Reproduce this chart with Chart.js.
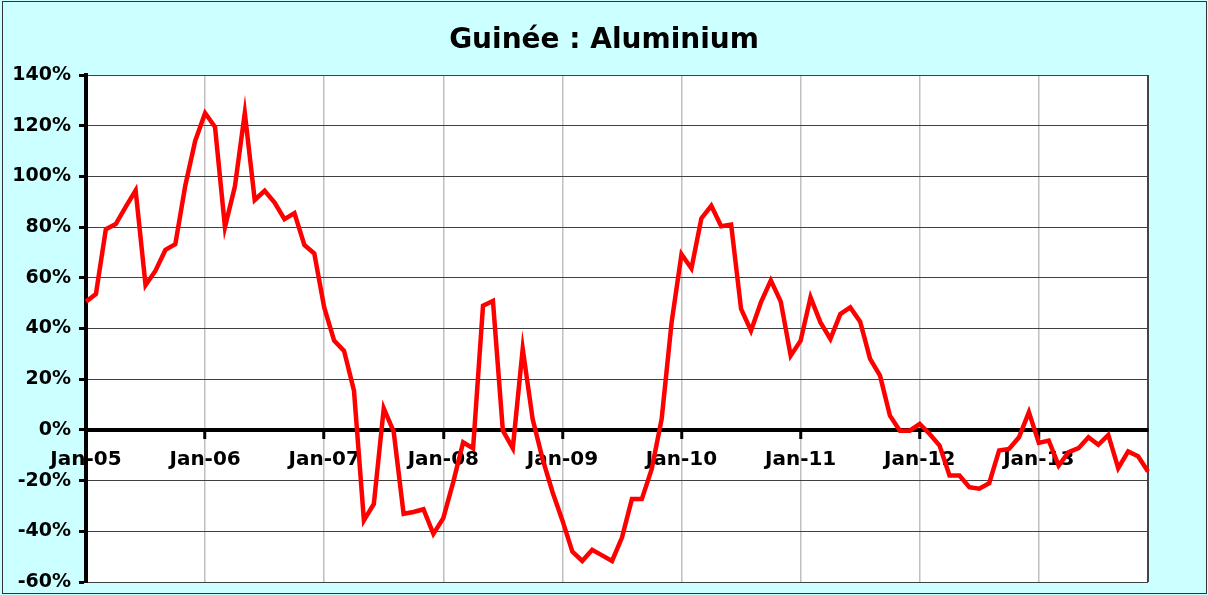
<!DOCTYPE html>
<html lang="fr">
<head>
<meta charset="utf-8">
<title>Guinée : Aluminium</title>
<script src="https://cdn.jsdelivr.net/npm/chart.js@4.4.1/dist/chart.umd.min.js"></script>
<style>
    html, body { margin: 0; padding: 0; background: #ccffff; }
    .chart-box { position: relative; width: 1208px; height: 595px; }
</style>
</head>
<body>
<div class="chart-box">
    <canvas id="aluChart"></canvas>
</div>
<script>
// Monthly categories Jan-05 .. Dec-13
const months = ['Jan', 'Feb', 'Mar', 'Apr', 'May', 'Jun', 'Jul', 'Aug', 'Sep', 'Oct', 'Nov', 'Dec'];
const years = ['05', '06', '07', '08', '09', '10', '11', '12', '13'];

// Year-on-year change, in %
const values2005 = [50.6, 53.6, 79.2, 81.2, 88, 94.5, 57.1, 62.8, 71.0, 73.3, 96.3, 114];
const values2006 = [125, 119.5, 80, 96, 125, 90.7, 94.3, 89.7, 83.1, 85.5, 73, 69.6];
const values2007 = [48.3, 35.2, 31.2, 15.5, -35.7, -29.2, 8.5, -0.7, -33.1, -32.4, -31.3, -41];
const values2008 = [-34.8, -20.6, -4.9, -7.3, 49, 50.9, -0.3, -7.2, 32, 4.3, -11.4, -24.5];
const values2009 = [-35.7, -48, -51.7, -47.3, -49.5, -51.7, -42.5, -27.3, -27.3, -15.4, 4.3, 42.4];
const values2010 = [69.3, 63.7, 83.4, 88.4, 80.3, 81, 47.7, 39.1, 50.3, 59, 50.6, 29.3];
const values2011 = [35.2, 52.3, 42.4, 35.9, 45.7, 48.3, 42.7, 28, 21.4, 5.6, -0.3, -0.3];
const values2012 = [2.4, -1.6, -6.2, -18, -18, -22.6, -23.2, -21, -8.1, -7.5, -2.9, 7];
const values2013 = [-5.1, -4.2, -14.1, -8.8, -7.2, -2.9, -5.9, -2, -15.1, -8.5, -10.4, -16.4];

// y axis ticks
const yMin = -60;
const yMax = 140;
const yStep = 20;

document.addEventListener('DOMContentLoaded', () => {
    const labels = [];
    years.forEach(y => months.forEach(m => labels.push(m + '-' + y)));
    const values = [].concat(values2005, values2006, values2007, values2008, values2009,
        values2010, values2011, values2012, values2013);
    const lastIndex = labels.length - 1;

    // cyan background, white plot area, thin outer frame
    const backgroundPlugin = {
        id: 'background',
        beforeDraw(chart) {
            const { ctx, chartArea } = chart;
            ctx.save();
            ctx.fillStyle = '#ccffff';
            ctx.fillRect(0, 0, chart.width, chart.height);
            ctx.fillStyle = '#ffffff';
            ctx.fillRect(chartArea.left, chartArea.top, chartArea.right - chartArea.left, chartArea.bottom - chartArea.top);
            ctx.strokeStyle = '#333333';
            ctx.lineWidth = 1;
            ctx.strokeRect(2.5, 1.5, chart.width - 4, chart.height - 3);
            ctx.restore();
        }
    };

    const ctx = document.getElementById('aluChart').getContext('2d');

    new Chart(ctx, {
        type: 'line',
        data: {
            labels: labels,
            datasets: [{
                label: 'Aluminium',
                data: values,
                borderColor: '#ff0000',
                borderWidth: 4.5,
                pointRadius: 0,
                tension: 0,
                fill: false
            }]
        },
        options: {
            responsive: true,
            maintainAspectRatio: false,
            animation: false,
            layout: {
                padding: { top: 0, left: 0, right: 0, bottom: 13 }
            },
            plugins: {
                legend: { display: false },
                tooltip: { enabled: false },
                title: {
                    display: true,
                    text: 'Guinée : Aluminium',
                    color: '#000',
                    font: { family: '"DejaVu Sans", sans-serif', size: 28, weight: 'bold' },
                    padding: { top: 24, bottom: 17.4 }
                }
            },
            scales: {
                x: {
                    position: { y: 0 },
                    afterFit: scale => {
                        scale.height = 0;
                        scale.paddingRight = 60; // cyan strip right of the plot
                    },
                    grid: {
                        color: c => c.index === lastIndex ? '#444' : (c.index % 12 === 0 ? '#c0c0c0' : 'transparent'),
                        lineWidth: c => c.index === lastIndex ? 2 : 1.5,
                        tickColor: c => c.index % 12 === 0 ? '#000' : 'transparent',
                        tickLength: 7,
                        tickWidth: 3
                    },
                    border: { color: '#000', width: 4 },
                    ticks: {
                        autoSkip: false,
                        maxRotation: 0,
                        padding: 11,
                        color: '#000',
                        font: { family: '"DejaVu Sans", sans-serif', size: 20, weight: 'bold' },
                        callback: function(value, index) {
                            return index % 12 === 0 ? this.getLabelForValue(value) : '';
                        }
                    }
                },
                y: {
                    min: yMin,
                    max: yMax,
                    afterFit: scale => {
                        scale.width = 86;
                        scale.paddingTop = 0;
                        scale.paddingBottom = 0;
                    },
                    grid: {
                        color: '#404040',
                        lineWidth: 1,
                        tickColor: '#000',
                        tickLength: 7,
                        tickWidth: 3
                    },
                    border: { color: '#000', width: 4 },
                    ticks: {
                        stepSize: yStep,
                        padding: 8,
                        color: '#000',
                        font: { family: '"DejaVu Sans", sans-serif', size: 19, weight: 'bold' },
                        callback: value => value + '%'
                    }
                }
            }
        },
        plugins: [backgroundPlugin]
    });
});
</script>
</body>
</html>
